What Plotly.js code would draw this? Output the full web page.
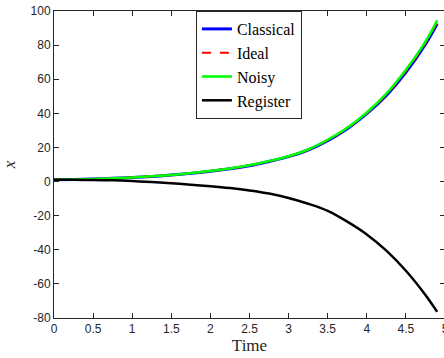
<!DOCTYPE html>
<html>
<head>
<meta charset="utf-8">
<script src="https://cdn.plot.ly/plotly-3.0.1.min.js"></script>
<style>
html,body{margin:0;padding:0;overflow:hidden;background:#fff;}
#chart{width:460px;height:358px;}
</style>
</head>
<body>
<div id="chart"></div>
<script>
var time = [0, 0.25, 0.5, 0.75, 1, 1.25, 1.5, 1.75, 2, 2.25, 2.5, 2.75, 3, 3.25, 3.5, 3.75, 4, 4.25, 4.5, 4.75, 4.9];
var classical = [1.0, 1.2, 1.5, 1.9, 2.4, 3.0, 3.8, 4.8, 6.0, 7.5, 9.3, 11.8, 14.6, 18.5, 24.0, 31.0, 39.8, 50.5, 64.0, 80.5, 92.5];
var ideal = [1.0, 1.2, 1.5, 1.9, 2.4, 3.05, 3.85, 4.9, 6.1, 7.6, 9.4, 11.9, 14.7, 18.6, 24.2, 31.2, 40.1, 51.0, 64.7, 81.2, 93.5];
var noisy = [1.0, 1.2, 1.5, 1.9, 2.4, 3.1, 3.9, 5.0, 6.2, 7.7, 9.5, 12.0, 14.8, 18.8, 24.5, 31.5, 40.5, 51.5, 65.5, 82.0, 94.5];
var register = [1.0, 1.0, 0.9, 0.7, 0.3, -0.3, -1.0, -1.8, -2.7, -3.8, -5.2, -7.0, -9.6, -13.0, -17.2, -23.5, -31.0, -40.5, -52.3, -66.5, -76.4];
var seriesNames = ["Classical", "Ideal", "Noisy", "Register"];
var xTicks = [0, 0.5, 1, 1.5, 2, 2.5, 3, 3.5, 4, 4.5, 5];
var yTicks = [-80, -60, -40, -20, 0, 20, 40, 60, 80, 100];

var traces = [
  {x: time, y: classical, name: seriesNames[0], mode: "lines", line: {color: "#0000ff", width: 3, shape: "spline"}},
  {x: time, y: ideal, name: seriesNames[1], mode: "lines", line: {color: "#ff0000", width: 2, dash: "dash", shape: "spline"}},
  {x: time, y: noisy, name: seriesNames[2], mode: "lines", line: {color: "#00ff00", width: 2.5, shape: "spline"}},
  {x: time, y: register, name: seriesNames[3], mode: "lines", line: {color: "#000000", width: 2.5, shape: "spline"}}
];

var axisCommon = {
  showgrid: false, zeroline: false, showline: true, mirror: "ticks",
  linecolor: "#262626", linewidth: 1, ticks: "inside", ticklen: 5, tickwidth: 1,
  tickcolor: "#262626", tickfont: {family: "Liberation Sans, Arial, sans-serif", size: 12, color: "#262626"}
};

var layout = {
  width: 460, height: 358,
  margin: {l: 54, r: 15, t: 11, b: 40},
  paper_bgcolor: "#fff", plot_bgcolor: "#fff",
  showlegend: true,
  legend: {
    x: 0.363, y: 1.0, xanchor: "left", yanchor: "top",
    bgcolor: "#fff", bordercolor: "#262626", borderwidth: 1,
    font: {family: "Liberation Serif, Times New Roman, serif", size: 16, color: "#000"},
    tracegroupgap: 0, itemwidth: 30
  },
  xaxis: Object.assign({}, axisCommon, {
    range: [0, 5], tickvals: xTicks, ticktext: xTicks.map(String),
    title: {text: "Time", font: {family: "Liberation Serif, Times New Roman, serif", size: 17, color: "#262626"}, standoff: 3}
  }),
  yaxis: Object.assign({}, axisCommon, {
    range: [-80, 100], tickvals: yTicks, ticktext: yTicks.map(String),
    title: {text: "<i>x</i>", font: {family: "Liberation Serif, Times New Roman, serif", size: 17, color: "#262626"}, standoff: 10}
  })
};

Plotly.newPlot("chart", traces, layout, {staticPlot: true, displayModeBar: false});
</script>
</body>
</html>
